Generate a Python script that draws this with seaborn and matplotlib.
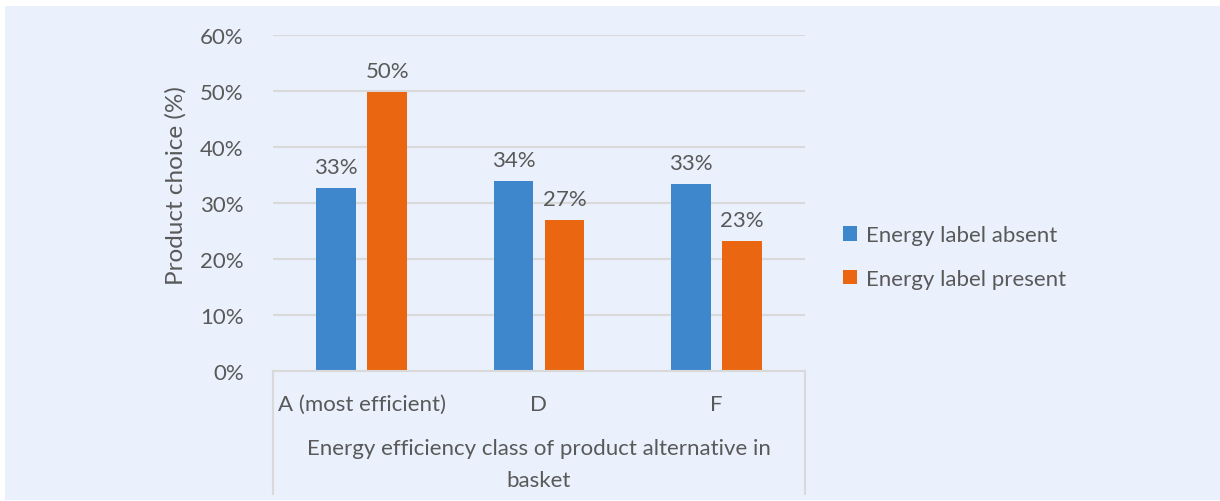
import matplotlib
matplotlib.use("Agg")
import matplotlib.pyplot as plt
from matplotlib.patches import Rectangle
from matplotlib.lines import Line2D
import seaborn as sns
import pandas as pd

# Product choice share by energy efficiency class, with and without the label
categories = ["A (most efficient)", "D", "F"]
series_names = ["Energy label absent", "Energy label present"]
label_absent = [32.7, 33.9, 33.4]
label_present = [49.8, 27.0, 23.2]
y_ticks = [0, 10, 20, 30, 40, 50, 60]

colors = ["#3F87CC", "#EA6610"]
bg = "#EAF1FC"
grid_c = "#D9D9D9"
text_c = "#595959"
fs = 16

df = pd.DataFrame({
    "category": categories * 2,
    "series": [series_names[0]] * 3 + [series_names[1]] * 3,
    "value": label_absent + label_present,
})

sns.set_theme(style="white")
plt.rcParams["font.family"] = ["Lato", "DejaVu Sans"]

W, H = 1220, 502
fig = plt.figure(figsize=(W / 100, H / 100), dpi=100, facecolor="white")
fig.patches.append(Rectangle((5 / W, 1 / H), 1 - 5 / W, (H - 8) / H,
                             transform=fig.transFigure, facecolor=bg,
                             edgecolor="none", zorder=-10))

x0, x1, yb, yt = 273, 805, 372, 36
ax = fig.add_axes([x0 / W, (H - yb) / H, (x1 - x0) / W, (yb - yt) / H])
ax.set_facecolor(bg)
ax.patch.set_alpha(0)

sns.barplot(data=df, x="category", y="value", hue="series",
            order=categories, hue_order=series_names, palette=colors,
            width=0.575, gap=0.216, saturation=1, linewidth=0,
            ax=ax, legend=False, errorbar=None)

ax.set_xlim(-0.5, 2.5)
ax.set_ylim(0, 60)
ax.set_yticks(y_ticks)
ax.set_yticklabels([f"{t}%" for t in y_ticks], fontsize=fs, color=text_c)
ax.tick_params(axis="y", length=0, pad=21)
ax.set_xticks([])
ax.set_xlabel("")
ax.set_ylabel("Product choice (%)", fontsize=17.5, color=text_c, va="center")
ax.yaxis.set_label_coords((176 - x0) / (x1 - x0), (yb - 185.5) / (yb - yt))
ax.yaxis.grid(True, color=grid_c, linewidth=1.5)
ax.set_axisbelow(True)
for s in ["top", "right", "left"]:
    ax.spines[s].set_visible(False)
ax.spines["bottom"].set_color(grid_c)
ax.spines["bottom"].set_linewidth(1.5)

# value labels above bars
for cont in ax.containers:
    ax.bar_label(cont, labels=[f"{v:.0f}%" for v in cont.datavalues],
                 padding=8, fontsize=fs, color=text_c)

# category labels and the framed axis title beneath the plot
for i, c in enumerate(categories):
    fig.text((x0 + (x1 - x0) * (i + 0.5) / 3) / W, (H - 405) / H, c,
             ha="center", va="center", fontsize=fs, color=text_c)
fig.text(((x0 + x1) / 2) / W, (H - 465) / H,
         "Energy efficiency class of product alternative in\nbasket",
         ha="center", va="center", fontsize=fs, color=text_c,
         linespacing=1.7)
for xp in (x0, x1):
    fig.add_artist(Line2D([xp / W, xp / W], [(H - yb) / H, (H - 495) / H],
                          transform=fig.transFigure, color=grid_c, lw=1.5))

handles = [Rectangle((0, 0), 1, 1, facecolor=c, edgecolor="none") for c in colors]
fig.legend(handles, series_names, loc="center left",
           bbox_to_anchor=(823 / W, (H - 258) / H), frameon=False,
           fontsize=fs, labelcolor=text_c, handlelength=0.62,
           handleheight=0.62, handletextpad=0.4, labelspacing=1.05)

fig.savefig("out.png", dpi=100, facecolor="white")
